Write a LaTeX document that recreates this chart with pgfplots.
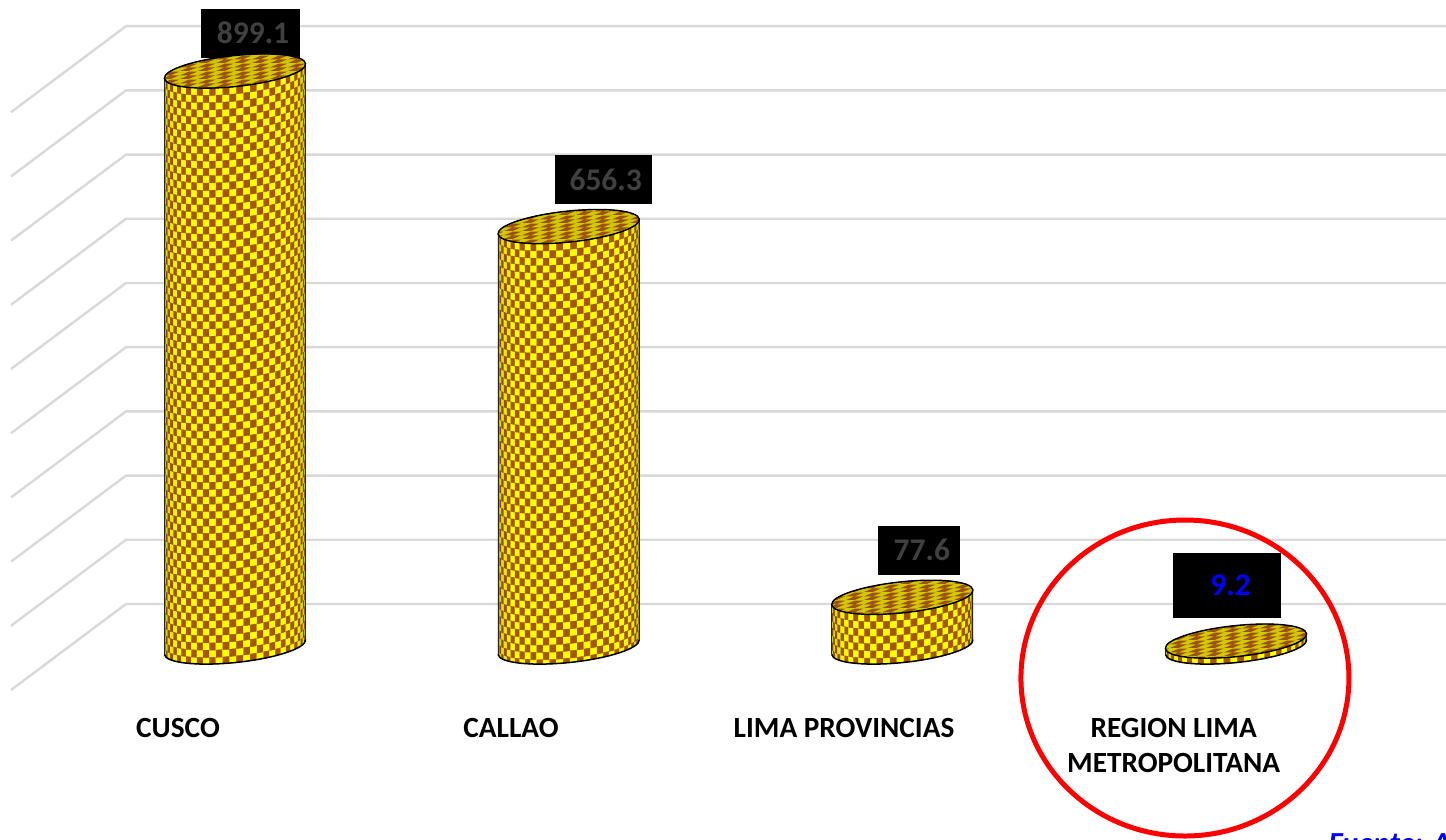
\documentclass[border=0pt]{standalone}
\usepackage{fontspec}
\setmainfont{Carlito}
\usepackage{pgfplots}
\pgfplotsset{compat=1.18}
\usetikzlibrary{patterns}
\definecolor{sideY}{HTML}{FFFF00}
\definecolor{sideB}{HTML}{A5560C}
\definecolor{topY}{HTML}{D2C800}
\definecolor{topB}{HTML}{9C520C}
\definecolor{gridc}{HTML}{D9D9D9}
\definecolor{dimtxt}{HTML}{404040}
\pgfdeclarepatternformonly{checktop}{\pgfpointorigin}{\pgfqpoint{18pt}{8pt}}{\pgfqpoint{18pt}{8pt}}{%
  \pgfpathmoveto{\pgfqpoint{0pt}{0pt}}\pgfpathlineto{\pgfqpoint{9pt}{0pt}}\pgfpathlineto{\pgfqpoint{18pt}{4pt}}\pgfpathlineto{\pgfqpoint{9pt}{4pt}}\pgfpathclose
  \pgfpathmoveto{\pgfqpoint{0pt}{4pt}}\pgfpathlineto{\pgfqpoint{9pt}{4pt}}\pgfpathlineto{\pgfqpoint{18pt}{8pt}}\pgfpathlineto{\pgfqpoint{9pt}{8pt}}\pgfpathclose
  \pgfusepath{fill}}
\def\topface{(70.6,7.4) .. controls (69.7,15.9) and (37.38,19.49) .. (-1.62,15.4)
  .. controls (-40.62,11.31) and (-71.5,1.1) .. (-70.6,-7.4)
  .. controls (-69.7,-15.9) and (-37.38,-19.49) .. (1.62,-15.4)
  .. controls (40.62,-11.31) and (71.5,-1.1) .. (70.6,7.4) -- cycle}
% a whole cylinder, hung from its data point (the centre of the top face)
\pgfdeclareplotmark{cyl}{%
  \pgfmathsetmacro{\H}{\vy*0.6406}%
  \pgfmathtruncatemacro{\nr}{\H/7.3+4}%
  \begin{scope}[x=1pt,y=1pt]
    \begin{scope}
      \clip (-70.6,-7.4) -- (-70.6,-7.4-\H)
        .. controls (-69.7,-15.9-\H) and (-37.38,-19.49-\H) .. (1.62,-15.4-\H)
        .. controls (40.62,-11.31-\H) and (71.5,-1.1-\H) .. (70.6,7.4-\H)
        -- (70.6,7.4) -- cycle;
      \foreach \k in {0,...,31}{%
        \pgfmathsetmacro{\tA}{180+5.625*\k}%
        \pgfmathsetmacro{\tB}{\tA+5.625}%
        \pgfmathsetmacro{\xA}{cos(\tA)*70.6+sin(\tA)*(-1.62)}%
        \pgfmathsetmacro{\yA}{cos(\tA)*7.4+sin(\tA)*15.4}%
        \pgfmathsetmacro{\xB}{cos(\tB)*70.6+sin(\tB)*(-1.62)}%
        \pgfmathsetmacro{\yB}{cos(\tB)*7.4+sin(\tB)*15.4}%
        \pgfmathsetmacro{\pct}{min(100,74+42*abs(sin(\tA+2.8)))}%
        \fill[sideY!\pct!black] (\xA-0.15,\yA+1) -- (\xB+0.15,\yB+1) -- (\xB+0.15,\yB-\H-16) -- (\xA-0.15,\yA-\H-16) -- cycle;
        \pgfmathtruncatemacro{\rs}{mod(\k,2)}%
        \pgfmathtruncatemacro{\rn}{\rs+2}%
        \foreach \r in {\rs,\rn,...,\nr}{%
          \pgfmathsetmacro{\dt}{\r*7.3}%
          \pgfmathsetmacro{\db}{\dt+7.3}%
          \fill[sideB!\pct!black] (\xA,\yA-\dt) -- (\xB,\yB-\dt) -- (\xB,\yB-\db) -- (\xA,\yA-\db) -- cycle;
        }%
      }%
    \end{scope}
    \draw[black!85,line width=0.9pt] (-70.6,-7.4) -- (-70.6,-7.4-\H);
    \draw[black!85,line width=0.9pt] (70.6,7.4) -- (70.6,7.4-\H);
    \draw[black,line width=1.5pt] (-70.6,-7.4-\H)
      .. controls (-69.7,-15.9-\H) and (-37.38,-19.49-\H) .. (1.62,-15.4-\H)
      .. controls (40.62,-11.31-\H) and (71.5,-1.1-\H) .. (70.6,7.4-\H);
    \path[fill=topY,postaction={pattern=checktop,pattern color=topB}] \topface;
    \draw[black,line width=1.4pt] \topface;
  \end{scope}%
}
\tikzset{lab/.style={fill=black,inner sep=0pt,font=\fontsize{31.5}{31.5}\selectfont\bfseries}}
\begin{document}
\begin{tikzpicture}
\path[use as bounding box] (0,0) rectangle (1446pt,839pt);
\clip (0,0) rectangle (1446pt,839pt);
% back wall and side wall grid
\begin{axis}[
  at={(0,0)},anchor=south west,scale only axis,width=1446pt,height=839pt,
  xmin=-0.7043,xmax=3.6294,ymin=-366.04,ymax=940.8,
  hide axis,unbounded coords=jump]
\addplot[gridc,line width=2.4pt,line join=round] coordinates {
(-0.6713,-134) (-0.3267,0) (3.63,0) (3.63,nan)
(-0.6713,-34) (-0.3267,100) (3.63,100) (3.63,nan)
(-0.6713,66) (-0.3267,200) (3.63,200) (3.63,nan)
(-0.6713,166) (-0.3267,300) (3.63,300) (3.63,nan)
(-0.6713,266) (-0.3267,400) (3.63,400) (3.63,nan)
(-0.6713,366) (-0.3267,500) (3.63,500) (3.63,nan)
(-0.6713,466) (-0.3267,600) (3.63,600) (3.63,nan)
(-0.6713,566) (-0.3267,700) (3.63,700) (3.63,nan)
(-0.6713,666) (-0.3267,800) (3.63,800) (3.63,nan)
(-0.6713,766) (-0.3267,900) (3.63,900)
};
\end{axis}
% cylinders
\begin{axis}[
  at={(0,0)},anchor=south west,scale only axis,width=1446pt,height=839pt,
  xmin=-0.7043,xmax=3.6294,ymin=-299.7,ymax=1010.0,
  clip=false,axis line style={draw=none},tick style={draw=none},ytick=\empty,
  xtick={-0.1708,0.8272,1.8252,2.8132},
  xticklabels={CUSCO,CALLAO,LIMA PROVINCIAS,{REGION LIMA\\METROPOLITANA}},
  xticklabel style={align=center,anchor=north,yshift=124pt,text=black,
    font=\fontsize{29.3}{35}\selectfont\bfseries}]
\node[lab,text=dimtxt,minimum width=99pt,minimum height=49pt,text width=99pt,align=center,xshift=15pt,yshift=38pt] at (axis cs:0,899.1) {\hspace*{6pt}899.1};
\node[lab,text=dimtxt,minimum width=97pt,minimum height=49pt,text width=97pt,align=center,xshift=34.5pt,yshift=47pt] at (axis cs:1,656.3) {\hspace*{5pt}656.3};
\node[lab,text=dimtxt,minimum width=82pt,minimum height=49pt,text width=82pt,align=center,xshift=17pt,yshift=47pt] at (axis cs:2,77.6) {\hspace*{5pt}77.6};
\node[lab,text=blue,minimum width=108pt,minimum height=65pt,text width=108pt,align=center,xshift=-9pt,yshift=56pt] at (axis cs:3,9.2) {\hspace*{7pt}9.2};
\addplot[only marks,scatter,mark=cyl,point meta=y,visualization depends on={rawy\as\vy},
  scatter/use mapped color={draw=black,fill=yellow}] coordinates {
  (0,899.1) (1,656.3) (2,77.6) (3,9.2)};
\draw[red,line width=5pt] (axis cs:2.847,-48.4) ellipse [x radius=164pt,y radius=158pt];
\node[anchor=base west,text=blue,inner sep=0pt,font=\fontsize{30.6}{30.6}\selectfont\bfseries\itshape] at (axis cs:3.2767,-323) {Fuente: A};
\end{axis}
\end{tikzpicture}
\end{document}
